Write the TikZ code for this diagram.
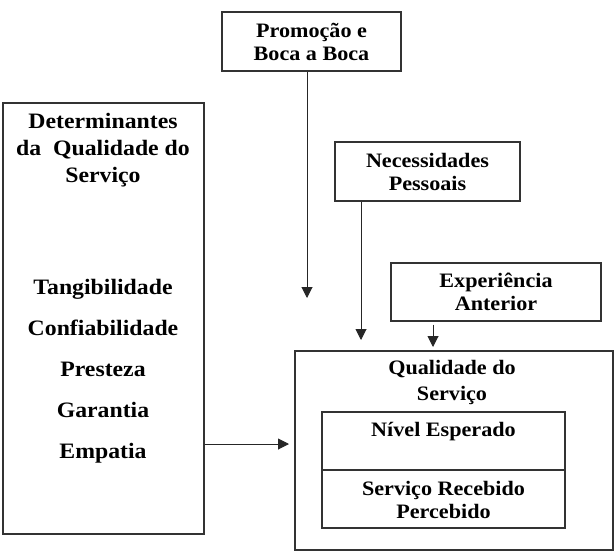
\documentclass[tikz,border=0pt]{standalone}
\usepackage{fontspec}
\setmainfont{Liberation Serif}[FakeStretch=1.08]
\usetikzlibrary{arrows.meta}
\begin{document}
\begin{tikzpicture}[x=1pt,y=-1pt,
  boxst/.style={draw=black!80, line width=1.2pt},
  smalltxt/.style={font=\bfseries\fontsize{20.5}{23}\selectfont, align=center},
  bigtxt/.style={font=\bfseries\fontsize{22}{27}\selectfont, align=center},
  conn/.style={line width=1pt, draw=black!85, -{Triangle[length=11pt,width=11pt]}}]
\useasboundingbox (0,0) rectangle (615,552);
% boxes
\node[boxst, minimum width=179pt, minimum height=59pt, inner sep=0pt] (promo) at (311.5,41.5) {};
\node[smalltxt] at (311.5,41.5) {Promoção e\\Boca a Boca};
\node[boxst, minimum width=201pt, minimum height=431pt, inner sep=0pt] (det) at (103.5,318.5) {};
\node[bigtxt] (dettitle) at (103,150) {Determinantes\\da\ \ Qualidade do\\Serviço};
\node[bigtxt, font=\bfseries\fontsize{22}{41}\selectfont] (detlist) at (103,371) {Tangibilidade\\Confiabilidade\\Presteza\\Garantia\\Empatia};
\node[boxst, minimum width=185pt, minimum height=59pt, inner sep=0pt] (nec) at (427.5,171.5) {};
\node[smalltxt] at (427.5,172) {Necessidades\\Pessoais};
\node[boxst, minimum width=210pt, minimum height=58pt, inner sep=0pt] (exp) at (496,292) {};
\node[smalltxt] at (496,292) {Experiência\\Anterior};
\node[boxst, minimum width=318pt, minimum height=199pt, inner sep=0pt] (qual) at (454,450.5) {};
\node[smalltxt, font=\bfseries\fontsize{20.5}{26}\selectfont] at (452,382) {Qualidade do\\Serviço};
\node[boxst, minimum width=243pt, minimum height=58pt, inner sep=0pt] (niv) at (443.5,441) {};
\node[smalltxt] at (443.5,432) {Nível Esperado};
\node[boxst, minimum width=243pt, minimum height=58pt, inner sep=0pt] (rec) at (443.5,499) {};
\node[smalltxt] at (443.5,500) {Serviço Recebido\\Percebido};
% connector ends
\coordinate (pend) at (307,298);
\coordinate (nend) at (361,340);
\coordinate (eend) at (433,347);
\coordinate (hend) at (289,444);
\draw[conn] (promo.south -| pend) -- (pend);
\draw[conn] (nec.south -| nend) -- (nend);
\draw[conn] ([yshift=-3pt]exp.south -| eend) -- (eend);
\draw[conn] (det.east |- hend) -- (hend);
\end{tikzpicture}
\end{document}
